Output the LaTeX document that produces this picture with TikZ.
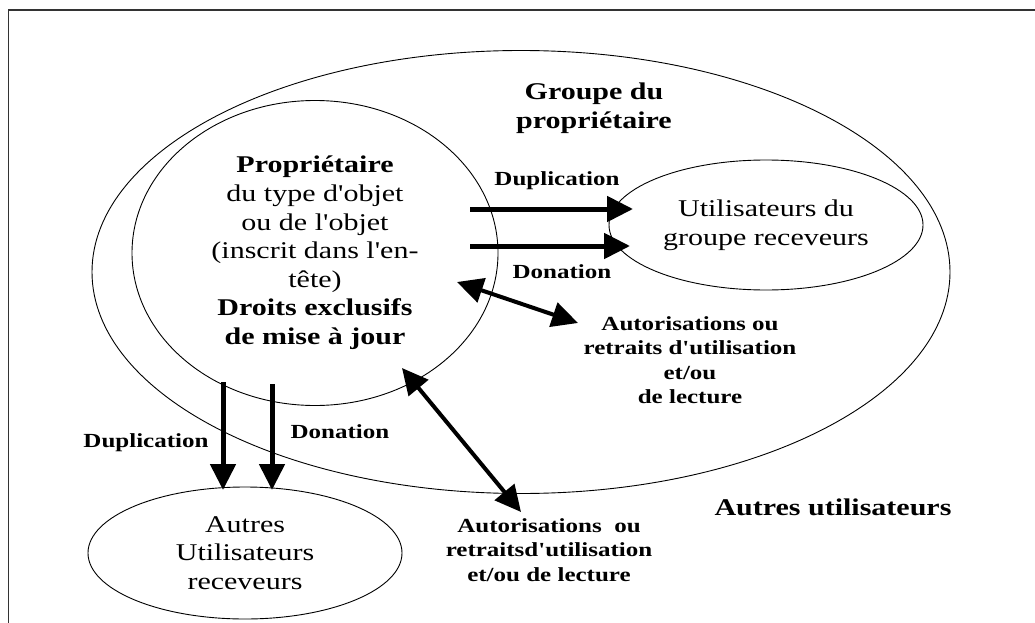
\documentclass[tikz,border=0pt]{standalone}
\usepackage{fontspec}
\setmainfont{Liberation Serif}[FakeStretch=1.25, Ligatures=TeXOff]
\usetikzlibrary{arrows.meta, positioning, shapes.geometric}
\tikzset{
  zone/.style={ellipse, draw, line width=0.9pt, inner sep=0pt, align=center, font=\fontsize{24}{28.6}\selectfont},
  lbl/.style={align=center, font=\fontsize{20}{24.5}\selectfont\bfseries},
  biglbl/.style={align=center, font=\fontsize{24}{29}\selectfont\bfseries},
  flow/.style={line width=5pt, -{Triangle[length=26pt, width=25pt]}},
  perm/.style={line width=4pt, {Triangle[length=26pt, width=25pt]}-{Triangle[length=26pt, width=25pt]}}
}

\begin{document}
\begin{tikzpicture}[x=1pt, y=-1pt]
\useasboundingbox (0,0) rectangle (1035,623);

% Frame
\draw[line width=1.5pt, black!80] (1035,10) -- (8.5,10) -- (8.5,623);

% Groupe du proprietaire
\node[zone, minimum width=858pt, minimum height=443pt] (groupe) at (521,272) {};
\node[biglbl] (groupelbl) at (594,108) {Groupe du\\propriétaire};

% Proprietaire
\node[zone, minimum width=366pt, minimum height=305pt] (proprio) at (315,253)
  {\textbf{Propriétaire}\\du type d'objet\\ou de l'objet\\(inscrit dans l'en-\\tête)\\\textbf{Droits exclusifs}\\\textbf{de mise à jour}};

% Utilisateurs du groupe
\node[zone, minimum width=314pt, minimum height=130pt] (recv) at (766,225) {Utilisateurs du\\groupe receveurs};

% Autres utilisateurs receveurs
\node[zone, minimum width=314pt, minimum height=132pt] (autres) at (245,553) {Autres\\Utilisateurs\\receveurs};
\node[biglbl] (autreslbl) at (833,507) {Autres utilisateurs};

% Arrow ends
\coordinate (dupS) at (470,209);
\coordinate (dupE) at (633,209);
\coordinate (donS) at (470,246);
\coordinate (donE) at (630,246);
\coordinate (dupT) at (223,382);
\coordinate (dupD) at (223,490);
\coordinate (donT) at (272,384);
\coordinate (donD) at (272,490);
\coordinate (authA) at (457,282);
\coordinate (authB) at (578,323);
\coordinate (authC) at (402,368);
\coordinate (authD) at (521,512);

% Connections
\draw[flow] (dupS) -- (dupE);
\draw[flow] (donS) -- (donE);
\draw[flow] (dupT) -- (dupD);
\draw[flow] (donT) -- (donD);
\draw[perm] (authA) -- (authB);
\draw[perm] (authC) -- (authD);

% Labels
\node[lbl] (duplbl) at (557,181) {Duplication};
\node[lbl] (donlbl) at (562,272) {Donation};
\node[lbl] (authlbl) at (690,360) {Autorisations ou\\retraits d'utilisation\\et/ou\\de lecture};
\node[lbl] (dupblbl) at (146,443) {Duplication};
\node[lbl] (donblbl) at (340,432) {Donation};
\node[lbl] (auth2lbl) at (549,550) {Autorisations~ ou\\retraitsd'utilisation\\et/ou de lecture};

\end{tikzpicture}
\end{document}
